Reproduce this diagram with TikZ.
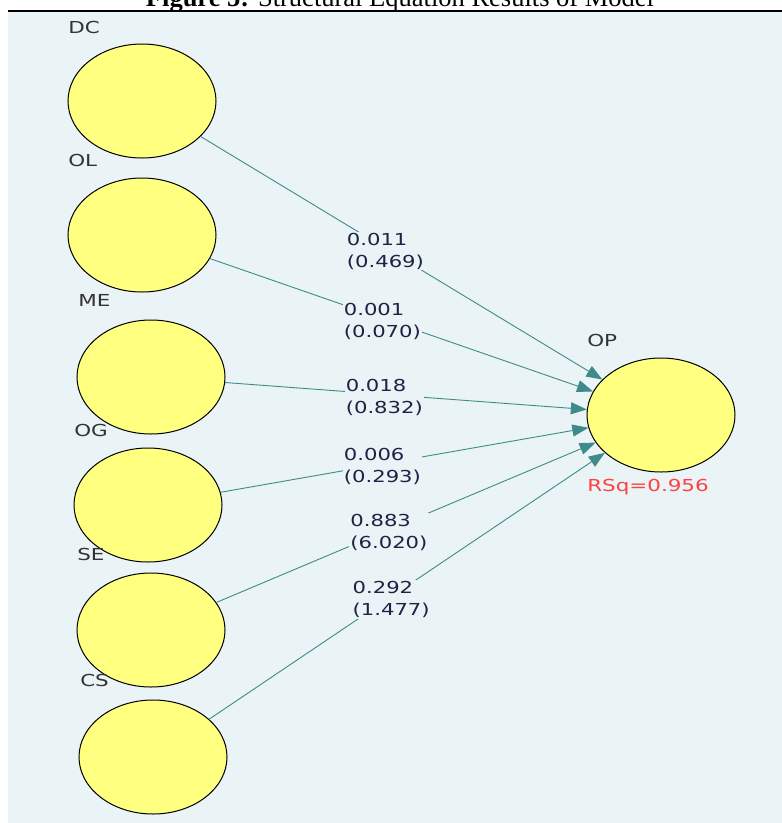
\documentclass[tikz,border=0pt]{standalone}
\usepackage{fontspec}
\setmainfont{Liberation Serif}
\newfontfamily\plsfont{DejaVu Sans}
\usetikzlibrary{shapes.geometric,arrows.meta}
\definecolor{panel}{HTML}{EAF3F5}
\definecolor{latent}{HTML}{FFFF80}
\definecolor{pathc}{HTML}{3F8A8A}
\definecolor{numc}{HTML}{1F2244}
\definecolor{rsqc}{HTML}{FF4040}
\definecolor{namec}{HTML}{333333}

\begin{document}
\begin{tikzpicture}[x=1pt,y=-1pt,
  latentvar/.style={ellipse, draw=black, line width=1pt, fill=latent,
    minimum width=148pt, minimum height=114pt, inner sep=0pt},
  varname/.style={font=\plsfont\fontsize{16.5}{18}\selectfont, text=namec,
    inner sep=0pt, anchor=base west, xscale=1.3},
  pathline/.style={draw=pathc, line width=0.9pt,
    -{Triangle[length=16pt,width=12pt]}},
  coef/.style={font=\plsfont\fontsize{16.5}{22}\selectfont, text=numc,
    fill=panel, align=left, inner sep=1pt, xscale=1.28, yshift=-3pt}]
  % page and clipping frame
  \useasboundingbox (0,0) rectangle (782,823);
  \clip (0,0) rectangle (782,823);
  \fill[white] (0,0) rectangle (782,823);
  \fill[panel] (8,12) rectangle (782,823);
  \draw[line width=1.3pt] (8,11) -- (782,11);
  \node[anchor=base, font=\fontsize{26.5}{30}\selectfont] (caption) at (400,6)
    {\textbf{Figure 5:} Structural Equation Results of Model};

  % latent variables
  \node[latentvar] (dc) at (142,101) {};
  \node[latentvar] (ol) at (142,235) {};
  \node[latentvar] (me) at (151,377) {};
  \node[latentvar] (og) at (148,505) {};
  \node[latentvar] (se) at (151,630) {};
  \node[latentvar] (cs) at (153,757) {};
  \node[latentvar] (op) at (661,415) {};

  % variable names
  \node[varname] (dcname) at (68,33) {DC};
  \node[varname] (olname) at (68,166) {OL};
  \node[varname] (mename) at (78,306) {ME};
  \node[varname] (ogname) at (74,436) {OG};
  \node[varname] (sename) at (77,560) {SE};
  \node[varname] (csname) at (80,686) {CS};
  \node[varname] (opname) at (587,346) {OP};
  \node[varname, text=rsqc] (rsq) at (587,491) {RSq=0.956};

  % structural paths: coefficient (t-value)
  \draw[pathline] (dc) -- node[coef, pos=0.46] (c1) {0.011\\(0.469)} (op);
  \draw[pathline] (ol) -- node[coef, pos=0.45] (c2) {0.001\\(0.070)} (op);
  \draw[pathline] (me) -- node[coef, pos=0.44] (c3) {0.018\\(0.832)} (op);
  \draw[pathline] (og) -- node[coef, pos=0.44] (c4) {0.006\\(0.293)} (op);
  \draw[pathline] (se) -- node[coef, pos=0.455] (c5) {0.883\\(6.020)} (op);
  \draw[pathline] (cs) -- node[coef, pos=0.46] (c6) {0.292\\(1.477)} (op);
\end{tikzpicture}
\end{document}
